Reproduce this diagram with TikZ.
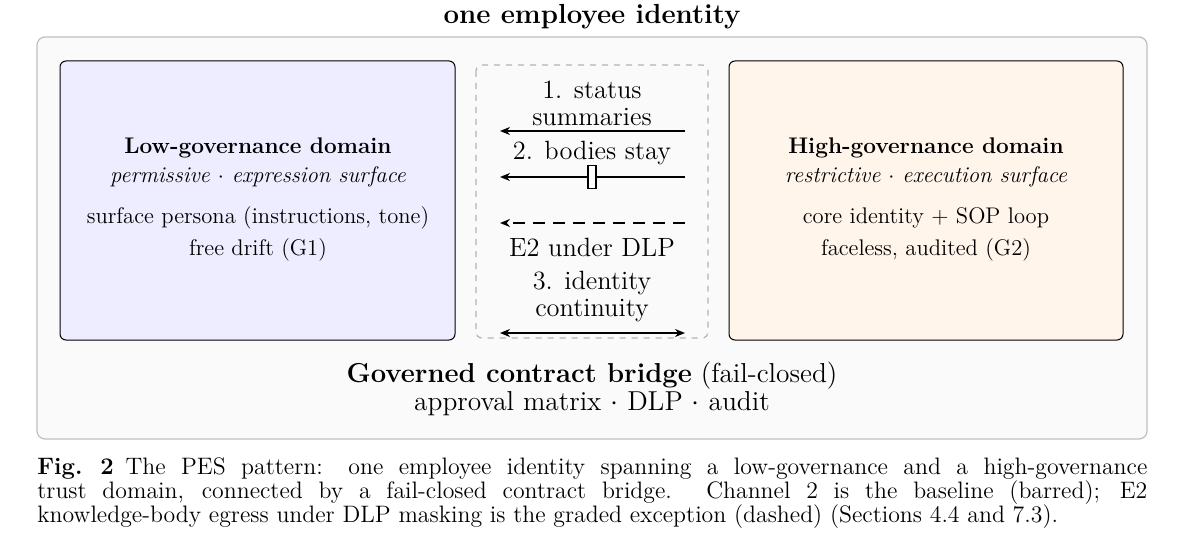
\documentclass[tikz,border=0pt]{standalone}
\usetikzlibrary{arrows.meta}
\begin{document}
\begin{tikzpicture}[x=0.5pt,y=-0.5pt,
  dom/.style={draw=black,rounded corners=3pt,line width=0.5pt},
  dt/.style={font=\fontsize{11.3}{13}\selectfont},
  flow/.style={line width=0.9pt,-{Stealth[length=5pt,width=4pt]}},
  lbl/.style={font=\fontsize{13.2}{13.5}\selectfont,align=center,inner sep=0pt}]
\useasboundingbox (0,0) rectangle (1184,535);
\node[font=\fontsize{13.8}{15}\selectfont\bfseries] (title) at (592,17) {one employee identity};
\draw[draw=black!25,fill=black!2,rounded corners=4pt,line width=0.6pt] (37,37) rectangle (1147,439);
\draw[dom,fill=blue!7] (60,61) rectangle (455,340);
\draw[dom,fill=orange!8] (729,61) rectangle (1123,340);
\draw[draw=black!30,dashed,rounded corners=3pt,line width=0.6pt] (476,65) rectangle (708,338);
% left text
\node[dt,font=\fontsize{11.3}{13}\selectfont\bfseries] (lt) at (258,148) {Low-governance domain};
\node[dt,font=\fontsize{11.3}{13}\selectfont\itshape] (ls) at (258,177) {permissive $\cdot$ expression surface};
\node[dt] (l1) at (258,218) {surface persona (instructions, tone)};
\node[dt] (l2) at (258,250) {free drift (G1)};
\node[dt,font=\fontsize{11.3}{13}\selectfont\bfseries] (rt) at (926,148) {High-governance domain};
\node[dt,font=\fontsize{11.3}{13}\selectfont\itshape] (rs) at (926,177) {restrictive $\cdot$ execution surface};
\node[dt] (r1) at (926,218) {core identity + SOP loop};
\node[dt] (r2) at (926,250) {faceless, audited (G2)};
% channels
\coordinate (a1) at (685,131); \coordinate (b1) at (500,131);
\coordinate (a2) at (685,177); \coordinate (b2) at (500,177);
\coordinate (a3) at (685,223); \coordinate (b3) at (500,223);
\coordinate (a4) at (685,333); \coordinate (b4) at (500,333);
\node[lbl] (c1) at (592,103) {1. status\\summaries};
\node[lbl] (c2) at (592,153) {2. bodies stay};
\node[lbl] (c3) at (592,247) {E2 under DLP};
\node[lbl] (c4) at (592,297) {3. identity\\continuity};
\draw[flow] (a1) -- (b1);
\draw[flow] (a2) -- (b2);
\node[draw=black,fill=white,line width=0.8pt,minimum width=4pt,minimum height=11.5pt,inner sep=0pt] (bar) at (592,177) {};
\draw[flow,dashed,dash pattern=on 6pt off 4pt] (a3) -- (b3);
\draw[line width=0.9pt,{Stealth[length=5pt,width=4pt]}-{Stealth[length=5pt,width=4pt]}] (b4) -- (a4);
\node[lbl,font=\fontsize{13.7}{13.8}\selectfont] (bridge) at (592,389) {\textbf{Governed contract bridge} (fail-closed)\\approval matrix $\cdot$ DLP $\cdot$ audit};
\node[text width=555pt,align=justify,inner sep=0pt,anchor=north west,font=\fontsize{11.9}{12}\selectfont] (cap) at (37,457) {\textbf{Fig.~2}\enspace The PES pattern: one employee identity spanning a low-governance and a high-governance\linebreak trust domain, connected by a fail-closed contract bridge. Channel 2 is the baseline (barred); E2\linebreak knowledge-body egress under DLP masking is the graded exception (dashed) (Sections 4.4 and 7.3).};
\end{tikzpicture}
\end{document}
